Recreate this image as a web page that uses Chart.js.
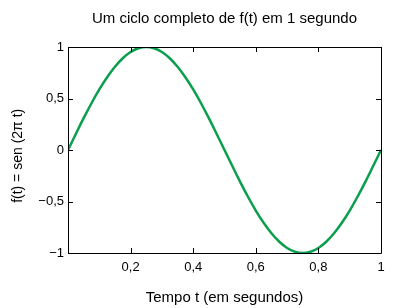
<!DOCTYPE html>
<html>
<head>
<meta charset="utf-8">
<script src="https://cdn.jsdelivr.net/npm/chart.js@4"></script>
<style>
  html, body { margin: 0; padding: 0; background: #fff; }
  #wrap { width: 396px; height: 308px; }
</style>
</head>
<body>
<div id="wrap"><canvas id="sineChart"></canvas></div>
<script>
const times = [0, 0.025, 0.05, 0.075, 0.1, 0.125, 0.15, 0.175, 0.2, 0.225, 0.25,
  0.275, 0.3, 0.325, 0.35, 0.375, 0.4, 0.425, 0.45, 0.475, 0.5,
  0.525, 0.55, 0.575, 0.6, 0.625, 0.65, 0.675, 0.7, 0.725, 0.75,
  0.775, 0.8, 0.825, 0.85, 0.875, 0.9, 0.925, 0.95, 0.975, 1];
const values = [0, 0.156, 0.309, 0.454, 0.588, 0.707, 0.809, 0.891, 0.951, 0.988, 1,
  0.988, 0.951, 0.891, 0.809, 0.707, 0.588, 0.454, 0.309, 0.156, 0,
  -0.156, -0.309, -0.454, -0.588, -0.707, -0.809, -0.891, -0.951, -0.988, -1,
  -0.988, -0.951, -0.891, -0.809, -0.707, -0.588, -0.454, -0.309, -0.156, 0];
const xTicks = [0.2, 0.4, 0.6, 0.8, 1];
const yTicks = [-1, -0.5, 0, 0.5, 1];

const titleText = 'Um ciclo completo de f(t) em 1 segundo';
const xLabel = 'Tempo t (em segundos)';
const yLabel = 'f(t) = sen (2\u03c0 t)';

const FONT = "'Liberation Sans', Arial, sans-serif";

// decimal comma + real minus sign
function fmt(v) {
  const s = String(Math.abs(Math.round(v * 100) / 100)).replace('.', ',');
  return v < 0 ? '\u2212' + s : s;
}

// box around the plot with inward ticks on all four sides
const frameTicks = {
  id: 'frameTicks',
  afterDatasetsDraw(chart) {
    const { ctx, chartArea: a, scales: { x, y } } = chart;
    const len = 5;
    ctx.save();
    ctx.strokeStyle = '#000';
    ctx.lineWidth = 1;
    ctx.beginPath();
    ctx.rect(Math.round(a.left) + 0.5, Math.round(a.top) + 0.5,
      Math.round(a.right - a.left), Math.round(a.bottom - a.top));
    xTicks.forEach(v => {
      const px = Math.round(x.getPixelForValue(v)) + 0.5;
      ctx.moveTo(px, a.bottom); ctx.lineTo(px, a.bottom - len);
      ctx.moveTo(px, a.top); ctx.lineTo(px, a.top + len);
    });
    yTicks.forEach(v => {
      const py = Math.round(y.getPixelForValue(v)) + 0.5;
      ctx.moveTo(a.left, py); ctx.lineTo(a.left + len, py);
      ctx.moveTo(a.right, py); ctx.lineTo(a.right - len, py);
    });
    ctx.stroke();
    ctx.restore();
  }
};

new Chart(document.getElementById('sineChart'), {
  type: 'line',
  data: {
    datasets: [{
      data: times.map((t, i) => ({ x: t, y: values[i] })),
      borderColor: '#0a9f4c',
      borderWidth: 2.5,
      pointRadius: 0,
      tension: 0.4,
      fill: false
    }]
  },
  options: {
    animation: false,
    responsive: true,
    maintainAspectRatio: false,
    layout: { padding: { top: 0, right: 15, bottom: 0, left: 0 } },
    plugins: {
      legend: { display: false },
      tooltip: { enabled: false },
      title: {
        display: true,
        text: titleText,
        fullSize: false,
        color: '#000',
        font: { family: FONT, size: 15, weight: 'normal' },
        padding: { top: 10, bottom: 19 }
      }
    },
    scales: {
      x: {
        type: 'linear',
        min: 0,
        max: 1,
        afterBuildTicks: s => { s.ticks = xTicks.map(v => ({ value: v })); },
        afterFit: s => { s.height = 55; },
        grid: { display: false, drawTicks: false },
        border: { display: false },
        ticks: {
          padding: 7,
          color: '#000',
          maxRotation: 0,
          font: { family: FONT, size: 13 },
          callback: v => fmt(v)
        },
        title: {
          display: true,
          text: xLabel,
          color: '#000',
          font: { family: FONT, size: 15 },
          padding: { top: 0, bottom: 1 }
        }
      },
      y: {
        type: 'linear',
        min: -1,
        max: 1,
        afterBuildTicks: s => { s.ticks = yTicks.map(v => ({ value: v })); },
        afterFit: s => { s.width = 68; },
        grid: { display: false, drawTicks: false },
        border: { display: false },
        ticks: {
          padding: 4,
          color: '#000',
          font: { family: FONT, size: 13 },
          callback: v => fmt(v)
        },
        title: {
          display: true,
          text: yLabel + '   ',
          color: '#000',
          font: { family: FONT, size: 14 },
          padding: { top: 10, bottom: 0 }
        }
      }
    }
  },
  plugins: [frameTicks]
});
</script>
</body>
</html>
